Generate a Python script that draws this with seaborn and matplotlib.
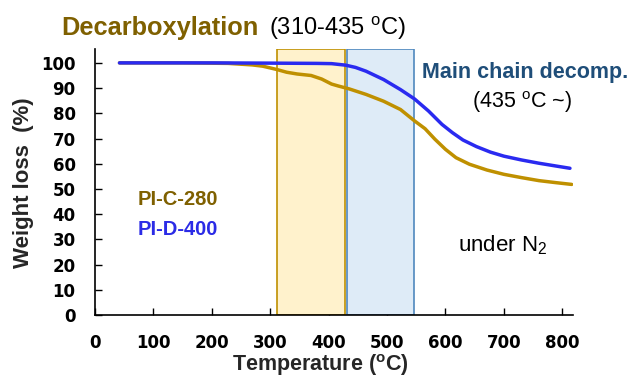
import numpy as np
import pandas as pd
import matplotlib
matplotlib.use("Agg")
import matplotlib.pyplot as plt
import seaborn as sns

# TGA curves (temperature in degC, weight in %)
temp_c280 = [42, 150, 228, 269, 287, 311, 328, 346, 370, 388, 405, 417, 435, 464, 494, 523, 547,
             565, 582, 600, 618, 641, 671, 700, 730, 760, 789, 816]
wt_c280 = [100, 100, 99.8, 99.2, 98.7, 97.4, 96.3, 95.6, 95.0, 93.6, 91.6, 90.8, 89.7, 87.5, 84.8, 81.5, 77.0,
           73.9, 69.7, 65.7, 62.4, 59.8, 57.5, 55.8, 54.5, 53.3, 52.5, 51.8]

temp_d400 = [42, 200, 300, 380, 405, 429, 446, 464, 494, 523, 547, 571, 594, 612, 630, 653, 677,
             700, 730, 760, 789, 813]
wt_d400 = [100, 100, 99.9, 99.8, 99.7, 99.1, 98.2, 96.7, 93.4, 89.4, 85.7, 80.9, 75.6, 72.3, 69.4, 66.8, 64.6,
           63.0, 61.5, 60.2, 59.1, 58.2]

decarb_range = (311, 428)
mainchain_range = (432, 546)

x_ticks = [0, 100, 200, 300, 400, 500, 600, 700, 800]
y_ticks = [0, 10, 20, 30, 40, 50, 60, 70, 80, 90, 100]

sns.set_style("ticks")
plt.rcParams['font.family'] = ['Liberation Sans', 'DejaVu Sans']
plt.rcParams['mathtext.fontset'] = 'custom'
plt.rcParams['mathtext.rm'] = 'Liberation Sans'
plt.rcParams['mathtext.bf'] = 'Liberation Sans:bold'

brown_line = '#BF9000'
brown_text = '#7F6000'
blue_line = '#2A2AF0'
blue_text = '#2B2BE6'
navy_text = '#1F4E79'

df = pd.concat([
    pd.DataFrame({'T': temp_c280, 'W': wt_c280, 'sample': 'PI-C-280'}),
    pd.DataFrame({'T': temp_d400, 'W': wt_d400, 'sample': 'PI-D-400'}),
])

fig = plt.figure(figsize=(6.33, 3.80), dpi=100)
ax = fig.add_axes([0.150, 0.171, 0.755, 0.700])

ax.axvspan(*decarb_range, facecolor='#FFF2CC', edgecolor=brown_line, linewidth=1.2, zorder=1)
ax.axvspan(*mainchain_range, facecolor='#DEEBF7', edgecolor='#4F88BE', linewidth=1.2, zorder=1)

sns.lineplot(data=df, x='T', y='W', hue='sample', palette={'PI-C-280': brown_line, 'PI-D-400': blue_line},
             linewidth=2.5, legend=False, ax=ax, zorder=3)

ax.set_xlim(0, 818)
ax.set_ylim(0, 105.5)
ax.set_xticks(x_ticks)
ax.set_yticks(y_ticks)
ax.tick_params(direction='in', length=5, width=1, pad=14, colors='black')
for lab in ax.get_xticklabels() + ax.get_yticklabels():
    lab.set_fontweight('bold')
    lab.set_fontfamily('DejaVu Sans')
    lab.set_fontsize(12)
for s in ['top', 'right']:
    ax.spines[s].set_visible(False)
for s in ['left', 'bottom']:
    ax.spines[s].set_linewidth(1.2)
    ax.spines[s].set_color('black')
ax.set_xlabel('')
ax.set_ylabel('')

fig.text(0.506, 0.024, r'Temperature ($^{\mathbf{o}}$C)', fontsize=15.5, fontweight='bold',
         ha='center', va='baseline')
fig.text(0.037, 0.518, 'Weight loss  (%)', fontsize=16, fontweight='bold', rotation=90,
         ha='center', va='center')

fig.text(0.096, 0.908, 'Decarboxylation', color=brown_text, fontsize=18.3, fontweight='bold', va='baseline')
fig.text(0.425, 0.908, r'(310-435 $^{\mathrm{o}}$C)', color='black', fontsize=17, va='baseline')
fig.text(0.667, 0.796, 'Main chain decomp.', color=navy_text, fontsize=15.5, fontweight='bold', va='baseline')
fig.text(0.745, 0.715, r'(435 $^{\mathrm{o}}$C ~)', color='black', fontsize=15.5, va='baseline')
fig.text(0.218, 0.461, 'PI-C-280', color=brown_text, fontsize=14.5, fontweight='bold', va='baseline')
fig.text(0.218, 0.382, 'PI-D-400', color=blue_text, fontsize=14.5, fontweight='bold', va='baseline')
fig.text(0.723, 0.338, r'under N$_2$', color='black', fontsize=16, va='baseline')

fig.savefig('out.png', dpi=100)
